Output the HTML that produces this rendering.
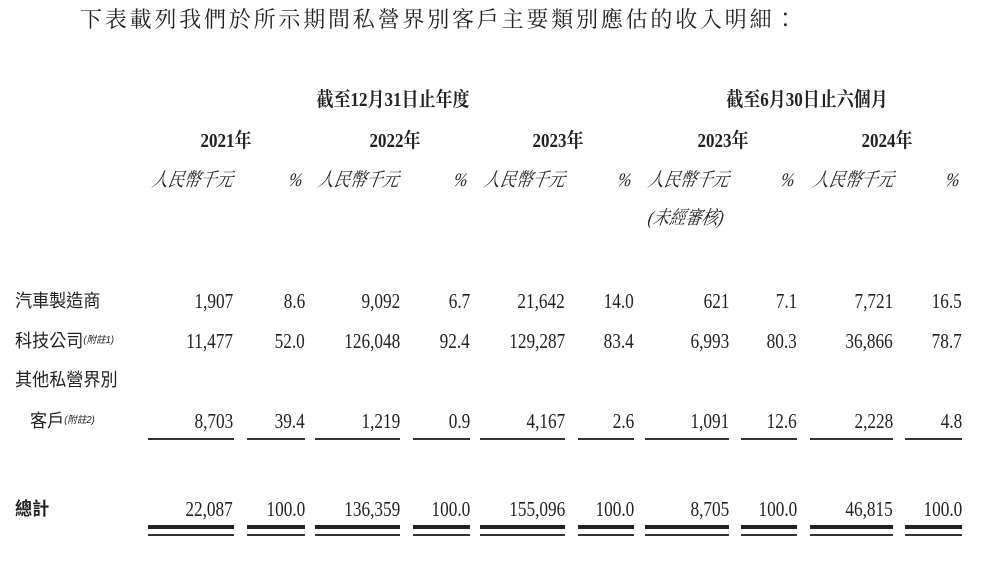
<!DOCTYPE html>
<html><head><meta charset="utf-8"><style>
body{margin:0;width:1000px;height:569px;background:#fff;position:relative;overflow:hidden;font-family:"Liberation Serif","Noto Serif CJK SC",serif;color:#222}
div{position:absolute;white-space:nowrap}
.n{font-size:21px;line-height:24px;transform:scaleX(0.82);transform-origin:right center}
.c{font-family:"Liberation Sans","Noto Sans CJK TC",sans-serif;font-size:18px;line-height:24px;transform:scaleX(0.95);transform-origin:left center}
.b{font-weight:bold;font-size:20px;line-height:24px;transform:scaleX(0.85);transform-origin:center center;text-align:center}
.i{font-style:italic;font-size:19px;line-height:24px;font-family:"Liberation Serif","Noto Serif CJK TC",serif;transform:skewX(-10deg) scaleX(0.85);transform-origin:left center}
.s{font-size:10px;font-style:italic;vertical-align:top}
.l{height:1.5px;background:#333}
.t{height:4px;background:#222}
.u{height:2px;background:#333}
</style></head><body>
<div style="left:80px;top:5px;font-size:22px;line-height:30px;letter-spacing:2.8px;font-family:'Liberation Serif','Noto Serif CJK TC',serif">下表載列我們於所示期間私營界別客戶主要類別應估的收入明細：</div>

<div class="b" style="left:293px;top:88px;width:200px">截至12月31日止年度</div>
<div class="b" style="left:707px;top:88px;width:200px">截至6月30日止六個月</div>
<div class="b" style="left:176px;top:129px;width:100px">2021年</div>
<div class="b" style="left:345px;top:129px;width:100px">2022年</div>
<div class="b" style="left:508px;top:129px;width:100px">2023年</div>
<div class="b" style="left:673px;top:129px;width:100px">2023年</div>
<div class="b" style="left:837px;top:129px;width:100px">2024年</div>

<div class="i" style="left:152px;top:169px">人民幣千元</div>
<div class="i" style="left:318px;top:169px">人民幣千元</div>
<div class="i" style="left:484px;top:169px">人民幣千元</div>
<div class="i" style="left:648px;top:169px">人民幣千元</div>
<div class="i" style="left:813px;top:169px">人民幣千元</div>
<div class="i" style="right:695px;top:169px">%</div>
<div class="i" style="right:530px;top:169px">%</div>
<div class="i" style="right:366px;top:169px">%</div>
<div class="i" style="right:203px;top:169px">%</div>
<div class="i" style="right:38px;top:169px">%</div>
<div class="i" style="left:648px;top:207px">(未經審核)</div>

<div class="c" style="left:15px;top:289px">汽車製造商</div>
<div class="c" style="left:15px;top:329px">科技公司<span class="s">(附註1)</span></div>
<div class="c" style="left:15px;top:368px">其他私營界別</div>
<div class="c" style="left:30px;top:409px">客戶<span class="s">(附註2)</span></div>
<div class="c" style="left:15px;top:497px;font-weight:bold">總計</div>

<div class="n" style="right:767px;top:289px">1,907</div><div class="n" style="right:695px;top:289px">8.6</div>
<div class="n" style="right:600px;top:289px">9,092</div><div class="n" style="right:530px;top:289px">6.7</div>
<div class="n" style="right:435px;top:289px">21,642</div><div class="n" style="right:366px;top:289px">14.0</div>
<div class="n" style="right:271px;top:289px">621</div><div class="n" style="right:203px;top:289px">7.1</div>
<div class="n" style="right:107px;top:289px">7,721</div><div class="n" style="right:38px;top:289px">16.5</div>

<div class="n" style="right:767px;top:329px">11,477</div><div class="n" style="right:695px;top:329px">52.0</div>
<div class="n" style="right:600px;top:329px">126,048</div><div class="n" style="right:530px;top:329px">92.4</div>
<div class="n" style="right:435px;top:329px">129,287</div><div class="n" style="right:366px;top:329px">83.4</div>
<div class="n" style="right:271px;top:329px">6,993</div><div class="n" style="right:203px;top:329px">80.3</div>
<div class="n" style="right:107px;top:329px">36,866</div><div class="n" style="right:38px;top:329px">78.7</div>

<div class="n" style="right:767px;top:409px">8,703</div><div class="n" style="right:695px;top:409px">39.4</div>
<div class="n" style="right:600px;top:409px">1,219</div><div class="n" style="right:530px;top:409px">0.9</div>
<div class="n" style="right:435px;top:409px">4,167</div><div class="n" style="right:366px;top:409px">2.6</div>
<div class="n" style="right:271px;top:409px">1,091</div><div class="n" style="right:203px;top:409px">12.6</div>
<div class="n" style="right:107px;top:409px">2,228</div><div class="n" style="right:38px;top:409px">4.8</div>

<div class="n" style="right:767px;top:497px">22,087</div><div class="n" style="right:695px;top:497px">100.0</div>
<div class="n" style="right:600px;top:497px">136,359</div><div class="n" style="right:530px;top:497px">100.0</div>
<div class="n" style="right:435px;top:497px">155,096</div><div class="n" style="right:366px;top:497px">100.0</div>
<div class="n" style="right:271px;top:497px">8,705</div><div class="n" style="right:203px;top:497px">100.0</div>
<div class="n" style="right:107px;top:497px">46,815</div><div class="n" style="right:38px;top:497px">100.0</div>

<div class="l" style="left:148px;width:86px;top:438px"></div><div class="l" style="left:247px;width:58px;top:438px"></div>
<div class="l" style="left:315px;width:85px;top:438px"></div><div class="l" style="left:413px;width:57px;top:438px"></div>
<div class="l" style="left:480px;width:85px;top:438px"></div><div class="l" style="left:578px;width:56px;top:438px"></div>
<div class="l" style="left:645px;width:84px;top:438px"></div><div class="l" style="left:741px;width:56px;top:438px"></div>
<div class="l" style="left:810px;width:83px;top:438px"></div><div class="l" style="left:905px;width:57px;top:438px"></div>

<div class="t" style="left:148px;width:86px;top:525px"></div><div class="t" style="left:247px;width:58px;top:525px"></div>
<div class="t" style="left:315px;width:85px;top:525px"></div><div class="t" style="left:413px;width:57px;top:525px"></div>
<div class="t" style="left:480px;width:85px;top:525px"></div><div class="t" style="left:578px;width:56px;top:525px"></div>
<div class="t" style="left:645px;width:84px;top:525px"></div><div class="t" style="left:741px;width:56px;top:525px"></div>
<div class="t" style="left:810px;width:83px;top:525px"></div><div class="t" style="left:905px;width:57px;top:525px"></div>

<div class="u" style="left:148px;width:86px;top:534px"></div><div class="u" style="left:247px;width:58px;top:534px"></div>
<div class="u" style="left:315px;width:85px;top:534px"></div><div class="u" style="left:413px;width:57px;top:534px"></div>
<div class="u" style="left:480px;width:85px;top:534px"></div><div class="u" style="left:578px;width:56px;top:534px"></div>
<div class="u" style="left:645px;width:84px;top:534px"></div><div class="u" style="left:741px;width:56px;top:534px"></div>
<div class="u" style="left:810px;width:83px;top:534px"></div><div class="u" style="left:905px;width:57px;top:534px"></div>
</body></html>
